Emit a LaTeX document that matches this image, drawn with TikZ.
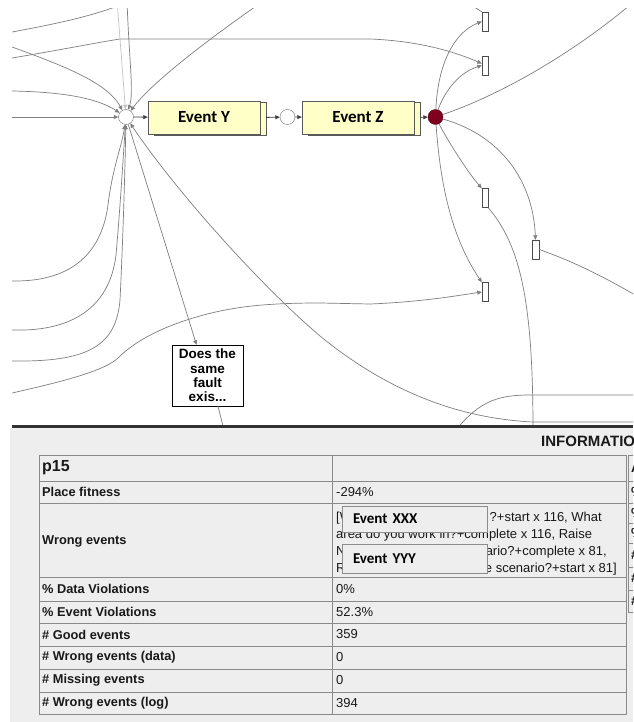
\documentclass[tikz,border=0pt]{standalone}
\usepackage{fontspec}
\setmainfont{Liberation Sans}
\newfontfamily\calibri{Carlito}
\usetikzlibrary{arrows.meta, positioning}

\definecolor{arcgray}{HTML}{7F7F7F}
\definecolor{lightarc}{HTML}{C4C4C4}
\definecolor{evfill}{HTML}{FFFFC8}
\definecolor{placered}{HTML}{800020}
\definecolor{panelgray}{HTML}{EEEEEE}
\definecolor{gridgray}{HTML}{8A8A8A}

\tikzset{
  place/.style={circle, draw=black!55, fill=white, minimum size=15pt, inner sep=0pt},
  trans/.style={rectangle, draw=black!70, fill=white, minimum width=6pt, minimum height=19pt, inner sep=0pt},
  evback/.style={rectangle, draw=black!65, fill=evfill, minimum width=112pt, minimum height=33pt, inner sep=0pt},
  event/.style={evback, font=\calibri\bfseries\fontsize{17}{19}\selectfont},
  qbox/.style={rectangle, draw=black, fill=white, minimum width=71pt, minimum height=61pt, inner sep=0pt, align=center, font=\bfseries\fontsize{13.5}{14.3}\selectfont},
  arc/.style={draw=arcgray, line width=0.7pt, -{Triangle[length=4.5pt,width=4pt]}},
  arcfree/.style={draw=arcgray, line width=0.7pt},
  shortarc/.style={draw=black!75, line width=0.8pt, -{Triangle[length=4.5pt,width=4pt]}},
  lbl/.style={anchor=west, inner sep=0pt, text=black!90, font=\bfseries\fontsize{12.8}{14}\selectfont},
  val/.style={anchor=west, inner sep=0pt, text=black!90, font=\fontsize{13}{15}\selectfont},
  wtxt/.style={inner sep=0pt, text=black!90, font=\fontsize{13}{15}\selectfont},
  popup/.style={rectangle, draw=black!45, fill=panelgray, minimum width=145pt, inner xsep=11pt, text width=123pt, align=left, font=\calibri\bfseries\fontsize{15}{17}\selectfont}
}

\begin{document}
\begin{tikzpicture}[x=1pt, y=-1pt]
\useasboundingbox (0,0) rectangle (633,722);
\fill[white] (0,0) rectangle (633,722);

% ---- net view ----
\begin{scope}
\clip (12,9) rectangle (633,424.5);

% places and transitions
\node[place] (p1) at (126,117) {};
\node[evback] (eYb) at (210,118.5) {};
\node[event] (eY) at (204,117.5) {Event Y};
\node[place] (p2) at (287.5,117) {};
\node[evback] (eZb) at (364,118.5) {};
\node[event] (eZ) at (358,117.5) {Event Z};
\node[place, fill=placered, draw=placered!70!black] (p3) at (435.5,117) {};

\node[trans] (t1) at (485,21.5) {};
\node[trans] (t2) at (485,65.5) {};
\node[trans] (t3) at (485,198) {};
\node[trans, minimum width=7pt] (t4) at (535.5,249.5) {};
\node[trans] (t5) at (485,292) {};

\node[qbox] (q) at (207.5,375.5) {Does the\\same\\fault\\exis...};

% free ends
\coordinate (l1) at (12,32);
\coordinate (l2) at (12,58);
\coordinate (l3) at (12,47);
\coordinate (l4) at (12,91);
\coordinate (l5) at (12,117);
\coordinate (l6) at (12,281);
\coordinate (l7) at (12,330);
\coordinate (l8) at (12,361);
\coordinate (l9) at (12,393);
\coordinate (u1) at (125,3);
\coordinate (u2) at (117,0);
\coordinate (u3) at (127,0);
\coordinate (u4) at (262,2);
\coordinate (u5) at (466,2);
\coordinate (u6) at (630,5);
\coordinate (r1) at (640,422);
\coordinate (r2) at (640,298);
\coordinate (r3) at (640,395);
\coordinate (b1) at (224,430);
\coordinate (b2) at (533,430);
\coordinate (b3) at (456,430);

% arcs into p1
\draw[arcfree] (l1) .. controls (50,25) and (95,16) .. (u1);
\draw[arc] (l2) .. controls (60,50) and (100,42) .. (120,39) -- (370,39)
  .. controls (420,41) and (455,52) .. ([yshift=2pt]t2.west);
\draw[arc] (l3) .. controls (70,68) and (108,84) .. (p1);
\draw[arc] (l4) .. controls (70,92) and (100,100) .. (p1);
\draw[arc] (l5) -- (p1);
\draw[arc, draw=lightarc] (u2) -- (p1);
\draw[arc] (u3) .. controls (129,60) and (134,92) .. (p1);
\draw[arc] (u4) .. controls (200,45) and (150,85) .. (p1);
\draw[arc] (l6) .. controls (75,282) and (102,250) .. (108,205)
  .. controls (112,170) and (122,145) .. (p1);
\draw[arc] (l7) .. controls (75,332) and (110,305) .. (116,255)
  .. controls (120,210) and (123,160) .. (p1);
\draw[arc] (l8) .. controls (85,362) and (116,348) .. (120,300)
  .. controls (123,240) and (125,170) .. (p1);
\draw[arc] (r1) -- (533,422) .. controls (450,418) and (380,385) .. (320,336)
  .. controls (260,285) and (175,190) .. (p1);

% main sequence
\draw[shortarc] (p1) -- (eY);
\draw[shortarc] (eYb) -- (p2);
\draw[shortarc] (p2) -- (eZ);
\draw[shortarc] (eZb) -- (p3);

% arcs out of p1
\draw[arc] (p1) -- ([xshift=-11pt]q.north);
\draw[arcfree] ([xshift=10.5pt]q.south) -- (b1);

% arcs out of p3
\draw[arc] (p3) .. controls (438,62) and (455,32) .. (t1.west);
\draw[arc] (p3) .. controls (445,90) and (460,72) .. (t2.west);
\draw[arcfree] (p3) .. controls (500,95) and (570,55) .. (u6);
\draw[arc] (p3) .. controls (450,145) and (470,175) .. (t3.north west);
\draw[arc] (p3) .. controls (440,180) and (450,235) .. (t5.north west);
\draw[arc] (p3) .. controls (500,135) and (533,180) .. (t4.north);
\draw[arcfree] (u5) -- (t1.north west);

% lower arcs
\draw[arc] (l9) .. controls (70,380) and (105,370) .. (118,358)
  .. controls (128,348) and (150,330) .. (200,316)
  .. controls (235,306) and (270,303) .. (320,303) -- (370,304)
  .. controls (420,302) and (455,296) .. (t5.west);
\draw[arcfree] (t3.south east) .. controls (520,245) and (533,300) .. (b2);
\draw[arcfree] (t4.east) .. controls (575,262) and (610,280) .. (r2);
\draw[arcfree] (b3) .. controls (480,400) and (500,395) .. (530,395) -- (r3);
\end{scope}

% ---- information panel ----
\fill[panelgray] (10,428) rectangle (633,722);
\fill[black!80] (12,424.5) rectangle (633,428);

\begin{scope}
\clip (0,428) rectangle (633,722);
\node[anchor=west, inner sep=0pt, text=black!90, font=\bfseries\fontsize{15}{17}\selectfont] (info) at (541,441) {INFORMATION};
% partly hidden side table
\draw[gridgray] (628.5,455) rectangle (660,612);
\foreach \yy in {481,503,523,543,567,590} \draw[gridgray] (628.5,\yy) -- (660,\yy);
\foreach \yy/\ch [count=\i] in {468/A,492/\%,513/\%,533/\%,555/\#,578.5/\#,601/\#}
  \node[val, font=\bfseries\fontsize{13}{15}\selectfont] (side\i) at (631,\yy) {\ch};
\end{scope}

% table grid
\draw[gridgray] (39,455) rectangle (626,714);
\draw[gridgray] (332,455) -- (332,714);
\foreach \yy in {481,503,577,601,623,646,669,692} \draw[gridgray] (39,\yy) -- (626,\yy);

% labels
\node[lbl, font=\bfseries\fontsize{16}{18}\selectfont] (n0) at (42,468) {p15};
\node[lbl] (n1) at (42,492) {Place fitness};
\node[lbl] (n2) at (42,541) {Wrong events};
\node[lbl] (n3) at (42,589) {\% Data Violations};
\node[lbl] (n4) at (42,612) {\% Event Violations};
\node[lbl] (n5) at (42,634.5) {\# Good events};
\node[lbl] (n6) at (42,657.5) {\# Wrong events (data)};
\node[lbl] (n7) at (42,680.5) {\# Missing events};
\node[lbl] (n8) at (42,703) {\# Wrong events (log)};

% values
\node[val] (v1) at (336,492) {-294\%};
\node[val] (v3) at (336,589) {0\%};
\node[val] (v4) at (336,612) {52.3\%};
\node[val] (v5) at (336,634.5) {359};
\node[val] (v6) at (336,657.5) {0};
\node[val] (v7) at (336,680.5) {0};
\node[val] (v8) at (336,703) {394};

% wrong events list
\node[wtxt, anchor=base west] (w1a) at (336,521) {[What area do you work in};
\node[wtxt, anchor=base east] (w1b) at (602,521) {?+start x 116, What};
\node[wtxt, anchor=base west] (w2) at (336,538) {area do you work in?+complete x 116, Raise};
\node[wtxt, anchor=base west] (w3a) at (336,555) {New Incident for the};
\node[wtxt, anchor=base east] (w3b) at (607,555) {scenario?+complete x 81,};
\node[wtxt, anchor=base west] (w4a) at (336,572) {Raise New Incident for};
\node[wtxt, anchor=base east] (w4b) at (617,572) {the scenario?+start x 81]};

% tooltips on top
\node[popup, minimum height=26pt] (ex) at (414.5,519) {Event XXX};
\node[popup, minimum height=29pt] (ey) at (414.5,558.5) {Event YYY};
\end{tikzpicture}
\end{document}
